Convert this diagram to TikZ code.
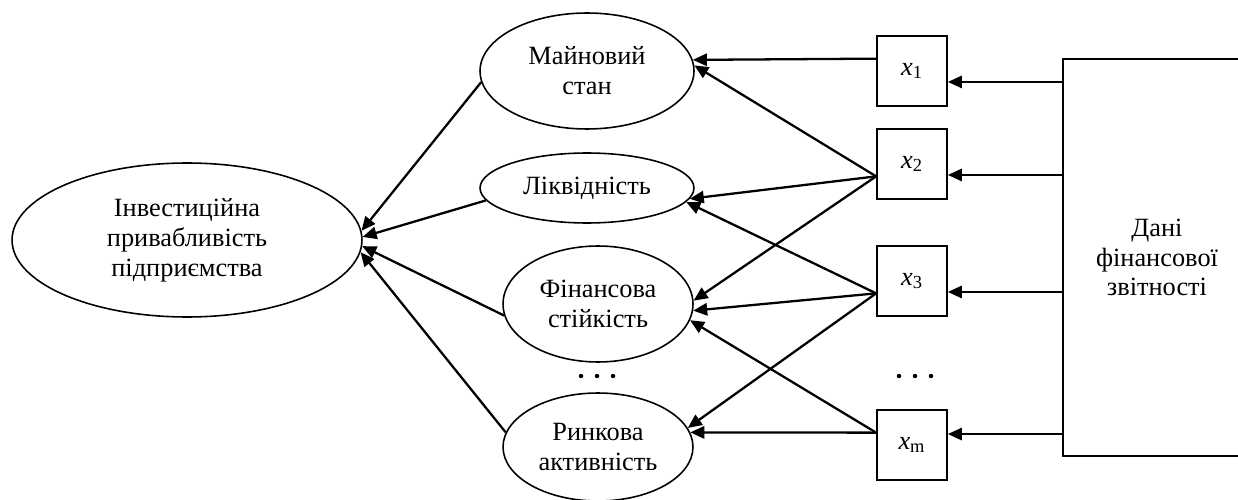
\documentclass[tikz,border=0pt]{standalone}
\usepackage{fontspec}
\setmainfont{Liberation Serif}
\usetikzlibrary{shapes.geometric,arrows.meta}

\begin{document}
\begin{tikzpicture}[x=0.02cm,y=-0.02cm,
		factor/.style={draw,ellipse,line width=0.9pt,inner sep=0pt,align=center},
		ind/.style={draw,rectangle,line width=1pt,minimum size=1.4cm,inner sep=0pt},
		arr/.style={line width=1.3pt,-{Triangle[length=8pt,width=7pt]}},
		font=\fontsize{15pt}{17pt}\selectfont]
		\useasboundingbox (0,0) rectangle (1238,500);
		
		% ellipses
		\node[factor,minimum width=7cm,minimum height=3.08cm] (main) at (187,240) {Інвестиційна\\привабливість\\підприємства};
		\node[factor,minimum width=4.28cm,minimum height=2.32cm] (maj) at (587,71) {Майновий\\стан};
		\node[factor,minimum width=4.28cm,minimum height=1.4cm] (liq) at (587,188) {Ліквідність};
		\node[factor,minimum width=3.8cm,minimum height=2.32cm] (fin) at (598,304) {Фінансова\\стійкість};
		\node[factor,minimum width=3.8cm,minimum height=2.16cm] (rin) at (598,447) {Ринкова\\активність};
		
		% indicators
		\node[ind] (x1) at (912,71) {\textit{x}\textsubscript{1}};
		\node[ind] (x2) at (912,164) {\textit{x}\textsubscript{2}};
		\node[ind] (x3) at (912,281) {\textit{x}\textsubscript{3}};
		\node[ind] (xm) at (912,445) {\textit{x}\textsubscript{m}};
		
		\node[draw,rectangle,line width=1pt,minimum width=3.76cm,minimum height=7.94cm,align=center] (data) at (1157,257.5) {Дані\\фінансової\\звітності};
		
		\foreach \d in {-16,0,16} {
		\fill (597+\d,376) circle[radius=0.045cm];
		\fill (915+\d,376) circle[radius=0.045cm];
		}
		
		% data -> indicators
		\draw[arr] (data.west |- x1.-17) -- (x1.-17);
		\draw[arr] (data.west |- x2.-17) -- (x2.-17);
		\draw[arr] (data.west |- x3.-17) -- (x3.-17);
		\draw[arr] (data.west |- xm.17) -- (xm.17);
		
		% indicators -> factors
		\draw[arr] (x1.161) -- (maj.6);
		\draw[arr] (x2.199) -- (maj.3);
		\draw[arr] (x2.199) -- (liq.-6);
		\draw[arr] (x2.199) -- (fin.2);
		\draw[arr] (x3.199) -- (liq.-8);
		\draw[arr] (x3.199) -- (fin.-4);
		\draw[arr] (x3.199) -- (rin.12);
		\draw[arr] (xm.161) -- (fin.-10);
		\draw[arr] (xm.161) -- (rin.9);
		
		% factors -> main
		\draw[arr] (maj.186) -- (main.3);
		\draw[arr] (liq.187) -- (main.1);
		\draw[arr] (fin.187) -- (main.-2);
		\draw[arr] (rin.171) -- (main.-4);
	\end{tikzpicture}
\end{document}
